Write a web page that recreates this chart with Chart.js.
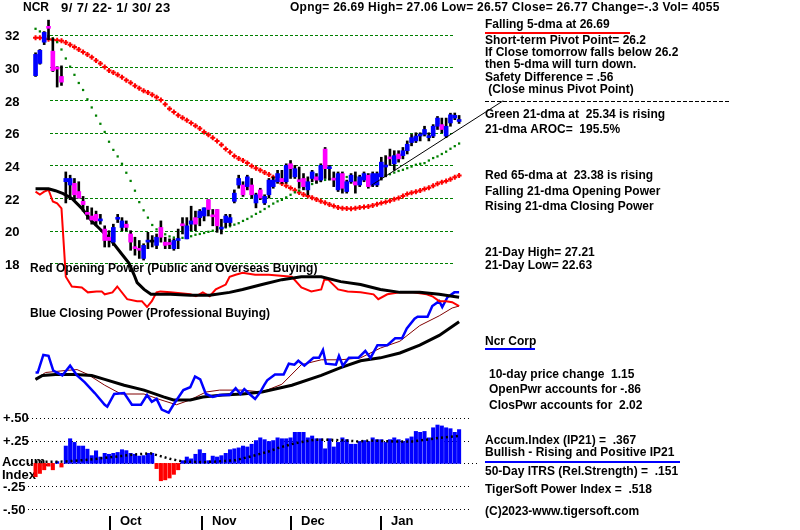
<!DOCTYPE html>
<html>
<head>
<meta charset="utf-8">
<script src="https://cdn.jsdelivr.net/npm/chart.js@4.4.0/dist/chart.umd.min.js"></script>
<style>
  html, body { margin: 0; padding: 0; background: #fff; }
  #wrap { width: 800px; height: 530px; }
</style>
</head>
<body>
<div id="wrap"><canvas id="chart" width="800" height="530"></canvas></div>
<script>
// Velas diarias NCR 9/7/22 - 1/30/23 (indice de dia 0..98)
const opens  = [29.5,30.25,31.55,32.5,31.0,29.95,29.45,23.0,22.8,22.9,22.4,21.8,21.1,20.9,21.0,20.6,20.1,19.6,19.3,20.7,
                20.2,20.4,19.8,18.95,18.9,18.3,19.3,19.3,19.1,20.2,19.3,19.2,18.9,19.4,20.4,19.5,20.4,20.8,20.8,20.9,
                21.9,20.9,21.3,20.1,20.5,20.5,21.8,22.8,22.8,22.7,22.8,21.7,22.5,21.7,22.2,22.7,23.0,23.2,23.0,24.1,
                23.3,23.1,23.2,22.5,23.2,23.3,23.1,25.0,23.8,23.2,22.5,23.5,22.4,23.0,23.0,22.8,23.1,23.4,22.8,22.8,
                23.3,23.9,24.5,24.1,24.7,24.6,24.9,25.4,25.5,25.8,25.9,25.7,25.8,26.4,26.5,25.8,26.6,26.9,26.69];
const highs  = [30.9,31.1,32.2,32.9,31.8,30.05,30.1,23.6,23.4,23.2,23.0,22.1,21.5,21.4,21.2,21.0,20.3,20.0,20.4,21.0,
                20.8,20.6,20.0,19.6,19.4,19.2,19.9,19.7,19.8,20.6,19.6,19.5,19.5,20.1,20.8,20.8,21.5,21.2,21.3,21.4,
                21.9,21.3,21.3,20.7,21.0,21.0,22.5,23.4,23.0,23.4,23.2,22.3,22.6,22.2,23.2,23.3,23.7,23.7,24.1,24.3,
                24.0,23.9,23.5,23.3,23.7,23.5,24.1,25.1,24.0,23.6,23.6,23.6,23.1,23.5,23.6,23.4,23.6,23.5,23.6,23.6,
                24.5,24.6,25.0,24.9,24.9,25.1,25.5,25.9,26.0,26.0,26.4,26.0,26.5,27.0,26.9,26.9,27.2,27.21,27.06];
const lows   = [29.45,30.2,31.4,31.7,29.75,28.8,28.9,21.7,21.9,21.9,22.0,21.2,20.7,20.4,20.3,20.4,19.0,19.0,19.1,20.5,
                20.0,20.0,18.8,18.5,18.3,18.2,18.9,19.0,18.9,19.3,18.9,18.9,18.8,18.9,19.8,19.5,20.0,20.0,20.3,20.6,
                20.9,20.3,19.9,19.8,20.2,20.3,21.7,22.6,22.1,22.5,22.0,21.4,21.9,21.6,22.0,22.6,22.9,22.9,22.9,23.2,
                23.2,22.6,22.5,22.2,23.0,22.9,23.0,23.2,23.1,22.7,22.4,22.3,22.3,22.9,22.3,22.7,23.0,22.6,22.7,22.7,
                23.1,23.3,24.0,23.7,24.2,24.4,24.7,25.2,25.4,25.5,25.8,25.5,25.7,26.2,26.0,25.7,26.4,26.8,26.57];
const closes = [30.8,31.05,32.15,32.4,29.8,29.9,29.1,23.2,23.2,22.2,22.0,21.6,21.0,20.65,20.6,20.65,19.4,19.4,20.2,20.8,
                20.6,20.2,19.3,18.9,18.8,19.1,19.35,19.3,19.6,19.6,19.1,19.15,19.4,19.5,20.3,20.3,20.6,20.4,21.2,21.4,
                21.3,20.85,20.3,20.15,20.9,20.8,22.3,23.2,22.2,23.3,22.2,22.2,22.0,22.1,23.1,23.1,23.5,23.0,24.0,23.8,
                23.8,23.0,22.7,23.0,23.6,23.1,24.0,23.8,23.9,23.1,23.5,22.6,23.0,23.4,22.8,23.3,23.5,22.7,23.5,23.5,
                24.2,24.0,24.4,24.6,24.4,24.9,25.3,25.7,25.8,25.85,26.2,25.75,26.4,26.9,26.2,26.4,27.1,27.07,26.77];

// Medias moviles (65 y 21 dias) por dia
const ma65 = [31.82,31.82,31.78,31.73,31.70,31.67,31.63,31.53,31.40,31.25,31.10,30.95,30.80,30.63,30.43,30.25,30.03,29.82,29.69,29.55,
              29.40,29.22,29.07,28.88,28.72,28.58,28.46,28.33,28.17,28.00,27.75,27.47,27.27,27.08,26.92,26.76,26.60,26.43,26.26,26.05,
              25.88,25.70,25.50,25.27,25.00,24.80,24.58,24.42,24.30,24.14,23.97,23.83,23.70,23.57,23.45,23.28,23.08,22.89,22.75,22.62,
              22.48,22.34,22.22,22.13,22.02,21.91,21.80,21.71,21.60,21.52,21.42,21.38,21.36,21.35,21.38,21.42,21.45,21.48,21.55,21.62,
              21.70,21.76,21.83,21.93,22.01,22.13,22.25,22.33,22.39,22.46,22.55,22.63,22.75,22.87,22.97,23.05,23.15,23.27,23.38];
const ma21 = [32.37,32.21,32.08,31.93,31.78,31.55,31.10,30.55,30.05,29.55,29.05,28.62,28.05,27.55,27.05,26.55,26.05,25.45,24.95,24.55,
              24.10,23.55,23.05,22.45,21.75,21.25,20.80,20.35,20.08,19.95,19.78,19.65,19.58,19.56,19.56,19.58,19.66,19.75,19.80,19.86,
              19.93,20.00,20.08,20.14,20.20,20.27,20.37,20.46,20.60,20.72,20.87,21.03,21.16,21.33,21.49,21.66,21.80,21.89,22.04,22.20,
              22.35,22.46,22.60,22.72,22.86,22.97,23.04,23.11,23.16,23.19,23.22,23.25,23.29,23.32,23.31,23.28,23.24,23.25,23.28,23.31,
              23.34,23.38,23.46,23.56,23.66,23.73,23.83,23.93,24.04,24.10,24.14,24.30,24.45,24.55,24.70,24.84,25.02,25.18,25.34];

// Linea de tendencia
const trendDays = [77.7, 108.2];
const trendVals = [22.78, 27.96];

// Poder de apertura (rojo) y su media (negro)
const opDays = [0,1,2,3,4,5,6,7,8.4,10.7,12.1,14.1,15.3,16,17.8,18.9,21.2,23.5,24.6,25.8,26.9,28,28.9,31.2,
                35.8,37.1,38.7,40.3,41.7,44,44.9,46.3,47.9,50.8,54,59.3,61.5,63.8,66.1,66.8,67.7,70,72.2,75.2,
                78.2,79.3,81.4,84.3,87.3,90.5,91.8,93.4,95,96.4,98];
const opVals = [1.10,1.07,1.10,1.12,1.00,0.98,0.93,0.23,0.13,0.12,0.07,0.08,0.08,0.05,0.07,0.13,0.00,-0.02,-0.02,-0.08,-0.02,0.07,0.08,0.07,
                0.05,0.03,0.07,0.03,0.10,0.15,0.23,0.25,0.27,0.25,0.25,0.23,0.12,0.08,0.10,0.20,0.20,0.10,0.08,0.07,
                0.05,0.00,0.05,0.07,0.07,0.05,0.03,-0.02,-0.02,-0.03,-0.07];
const opMaDays = [0,3,4.6,6.4,8.4,10.7,13,15.3,17.5,19.8,21.6,22.8,23.5,25.1,26.7,31.2,
                  35.8,40.3,44.9,47.9,52.4,57,61.5,66.1,70.6,75.2,79.8,84.3,88.9,93.4,96.4,98];
const opMaVals = [1.13,1.13,1.11,1.08,1.03,0.93,0.80,0.70,0.60,0.47,0.37,0.25,0.17,0.10,0.05,0.05,
                  0.04,0.04,0.07,0.10,0.15,0.20,0.23,0.23,0.18,0.15,0.10,0.07,0.07,0.05,0.03,0.02];

// Poder de cierre (azul) y sus medias (negro, marron)
const cpDays = [0,0.5,1.8,3,4.1,6.2,8,9.6,11.4,13.7,16,16.6,18.2,20.5,22.3,24.4,25.8,26.9,28,29.2,30.8,31.9,34.2,35.8,
                36.9,38.1,39.4,41,42.6,44.9,46.3,47.4,48.3,49.5,50.8,52,52.9,53.6,55.4,57.4,58.6,59.9,60.8,62.2,64.3,65.6,
                66.5,67.2,69.5,70.2,71.1,72.5,74.7,76.3,77.5,79.1,81.4,83.2,84.8,85.9,87.7,88.4,90.7,91.8,93.4,94.1,95.3,96.9,98];
const cpVals = [0.35,0.35,0.53,0.52,0.37,0.32,0.42,0.32,0.25,0.14,0.02,0.00,0.13,0.14,0.02,0.02,0.12,0.05,0.08,-0.03,-0.06,0.02,0.17,0.20,
                0.31,0.28,0.13,0.10,0.12,0.12,0.19,0.13,0.18,0.13,0.08,0.15,0.22,0.27,0.33,0.33,0.44,0.43,0.47,0.42,0.50,0.50,
                0.58,0.44,0.43,0.52,0.42,0.50,0.50,0.57,0.50,0.63,0.63,0.70,0.70,0.80,0.90,0.92,0.92,1.03,1.08,1.02,1.12,1.17,1.17];
const cpMaDays = [0,1.6,4.6,9.1,13,16,20.5,25.1,29.6,31.9,35.8,38.7,43.3,47.9,52.4,59.3,66.1,70.6,75.2,79.8,84.3,88.9,93.4,98];
const cpMaVals = [0.28,0.32,0.33,0.33,0.32,0.28,0.22,0.17,0.10,0.07,0.07,0.10,0.12,0.13,0.15,0.22,0.32,0.40,0.47,0.50,0.55,0.63,0.73,0.87];
const cpMa2Days = [0,2.3,6.8,9.6,12.1,16,19.8,25.1,29,32.6,35.8,39.4,42.6,47.9,52.4,57,61.5,66.1,70.6,75.2,79.8,84.3,88.9,93.4,96.4,98];
const cpMa2Vals = [0.28,0.35,0.37,0.38,0.33,0.22,0.13,0.13,0.07,0.02,0.07,0.15,0.17,0.17,0.15,0.23,0.43,0.48,0.48,0.50,0.60,0.67,0.83,0.93,1.01,1.03];

// Indice de acumulacion IP21 y su media
const accum = [-0.146,-0.11,-0.07,-0.03,-0.07,0.02,-0.04,
               0.19,0.27,0.23,0.19,0.19,0.156,0.085,0.138,0.07,0.11,0.10,0.11,0.12,0.15,0.14,0.11,0.10,0.08,0.085,0.11,0.11,
               -0.057,-0.19,-0.18,-0.16,-0.12,-0.07,
               0.03,0.07,0.05,0.10,0.15,0.11,0.03,0.08,0.07,0.085,0.11,0.15,0.16,0.17,0.19,0.18,0.21,0.25,0.28,
               0.26,0.24,0.25,0.28,0.27,0.27,0.28,0.34,0.34,0.34,0.28,0.30,0.27,0.27,0.16,0.27,0.18,0.23,0.28,0.26,
               0.21,0.21,0.24,0.25,0.24,0.28,0.26,0.26,0.23,0.26,0.28,0.26,0.24,0.27,0.29,0.35,0.34,0.35,0.28,0.39,
               0.42,0.41,0.39,0.38,0.34,0.37];
const accMaDays = [0,6.5,12.1,15.9,19.7,23.5,26.6,28.9,31.1,34.2,38.7,41.8,46.3,50.9,53.9,56.2,60,64.6,67.6,72.2,74.5,77.5,82.9,87.4,90.4,93.5,98];
const accMaVals = [0.015,0.02,0.04,0.06,0.08,0.10,0.11,0.08,0.05,0.02,0.015,0.02,0.035,0.09,0.13,0.17,0.22,0.26,0.26,0.25,0.24,0.25,0.24,0.24,0.26,0.28,0.30];

// Etiquetas de ejes
const priceTicks = [32, 30, 28, 26, 24, 22, 20, 18];
const accumTicks = [0.5, 0.25, 0, -0.25, -0.5];
const accumTickLabels = ['+.50', '+.25', '', '-.25', '-.50'];
const months = ['Oct', 'Nov', 'Dec', 'Jan'];
const monthDays = [17.3, 38.5, 59.1, 79.9];

// ---- disposicion ----
const W = 800, H = 530;
const X_FIRST = 30, X_LAST = 460;
const pxDay = (X_LAST - X_FIRST) / (opens.length - 1);
function rango(valRef, pxRef, pxUnidad) {
  return { min: valRef - (H - pxRef) / pxUnidad, max: valRef + pxRef / pxUnidad };
}
const rP = rango(32, 29.5, 16.7);   // precio
const rO = rango(0, 300, 100);      // poder de apertura
const rC = rango(0, 410, 100);      // poder de cierre
const rA = rango(0, 468, 93.5);     // acumulacion

const pares = (xs, ys) => xs.map((d, i) => ({ x: d, y: ys[i] }));
const dias = opens.map((_, i) => i);

const wicks = dias.map(i => ({ x: i, y: [lows[i], highs[i]] }));
const bodies = dias.map(i => ({ x: i, y: [opens[i], closes[i]] }));
const bodyColors = dias.map(i => closes[i] > opens[i] + 0.02 ? '#0000FF' : (closes[i] < opens[i] - 0.02 ? '#FF00FF' : '#000000'));
const accBars = dias.map(i => ({ x: i, y: accum[i] }));
const accColors = accum.map(v => v >= 0 ? '#0000FF' : '#FF0000');

const F = 'bold 12px "Liberation Sans", Arial, sans-serif';
const F13 = 'bold 13px "Liberation Sans", Arial, sans-serif';

function linea(ctx, x1, y1, x2, y2) {
  ctx.beginPath(); ctx.moveTo(x1, y1); ctx.lineTo(x2, y2); ctx.stroke();
}

const dibujo = {
  id: 'dibujo',
  beforeDatasetsDraw(chart) {
    const ctx = chart.ctx, yP = chart.scales.yP, yA = chart.scales.yA;
    ctx.save();
    // rejilla verde del precio
    ctx.strokeStyle = '#008000'; ctx.lineWidth = 1; ctx.setLineDash([3, 2]);
    priceTicks.forEach(p => {
      const y = Math.round(yP.getPixelForValue(p)) + 0.5;
      linea(ctx, 50, y, 453, y);
    });
    // lineas punteadas del indice de acumulacion
    ctx.strokeStyle = '#000'; ctx.setLineDash([1, 3]);
    accumTicks.forEach(v => {
      const y = Math.round(yA.getPixelForValue(v)) + 0.5;
      linea(ctx, 28, y, v === 0 ? 480 : 472, y);
    });
    // rotulo del panel (queda debajo de las barras)
    ctx.fillStyle = '#000';
    ctx.textBaseline = 'middle';
    ctx.font = F13;
    ctx.fillText('Accum.', 2, 462);
    ctx.fillText('Index', 2, 475);
    ctx.restore();
  },
  afterDatasetsDraw(chart) {
    const ctx = chart.ctx, yP = chart.scales.yP, yA = chart.scales.yA, x = chart.scales.x;
    ctx.save();
    ctx.fillStyle = '#000';
    ctx.textBaseline = 'middle';
    ctx.font = F13;
    priceTicks.forEach(p => ctx.fillText(String(p), 5, yP.getPixelForValue(p) + 2));
    accumTicks.forEach((v, k) => {
      if (accumTickLabels[k]) ctx.fillText(accumTickLabels[k], 3, yA.getPixelForValue(v) + 1);
    });

    // meses
    ctx.strokeStyle = '#000'; ctx.lineWidth = 2;
    months.forEach((m, k) => {
      const px = Math.round(x.getPixelForValue(monthDays[k]));
      linea(ctx, px, 516, px, 530);
      ctx.fillText(m, px + 10, 521);
    });

    // titulos
    ctx.font = F;
    ctx.fillText('NCR', 23, 8);
    ctx.font = F13;
    ctx.letterSpacing = '0.4px';
    ctx.fillText('9/ 7/ 22- 1/ 30/ 23', 61, 8);
    ctx.font = F;
    ctx.letterSpacing = '0.25px';
    ctx.fillText('Opng= 26.69 High= 27.06 Low= 26.57 Close= 26.77 Change=-.3 Vol= 4055', 290, 8);
    ctx.letterSpacing = '0px';
    ctx.fillText('Red Opening Power (Public and Overseas Buying)', 30, 269);
    ctx.fillText('Blue Closing Power (Professional Buying)', 30, 314);

    // panel derecho
    const textos = [
      ['Falling 5-dma at 26.69', 485, 25],
      ['Short-term Pivot Point= 26.2', 485, 41],
      ['If Close tomorrow falls below 26.2', 485, 53],
      ['then 5-dma will turn down.', 485, 65],
      ['Safety Difference = .56', 485, 78],
      [' (Close minus Pivot Point)', 485, 90],
      ['Green 21-dma at  25.34 is rising', 485, 115],
      ['21-dma AROC=  195.5%', 485, 130],
      ['Red 65-dma at  23.38 is rising', 485, 176],
      ['Falling 21-dma Opening Power', 485, 192],
      ['Rising 21-dma Closing Power', 485, 207],
      ['21-Day High= 27.21', 485, 253],
      ['21-Day Low= 22.63', 485, 266],
      ['Ncr Corp', 485, 342],
      ['10-day price change  1.15', 489, 375],
      ['OpenPwr accounts for -.86', 489, 390],
      ['ClosPwr accounts for  2.02', 489, 406],
      ['Accum.Index (IP21) =  .367', 485, 441],
      ['Bullish - Rising and Positive IP21', 485, 453],
      ['50-Day ITRS (Rel.Strength) =  .151', 485, 472],
      ['TigerSoft Power Index =  .518', 485, 490],
      ['(C)2023-www.tigersoft.com', 485, 512]
    ];
    textos.forEach(t => ctx.fillText(t[0], t[1], t[2]));

    ctx.lineWidth = 2;
    ctx.strokeStyle = '#FF0000'; linea(ctx, 485, 33, 630, 33);
    ctx.strokeStyle = '#0000FF'; linea(ctx, 485, 349, 535, 349);
    linea(ctx, 485, 462, 680, 462);
    ctx.strokeStyle = '#000'; ctx.lineWidth = 1; ctx.setLineDash([4, 2]);
    linea(ctx, 485, 101.5, 730, 101.5);
    ctx.restore();
  }
};

const lineaBase = { type: 'line', pointRadius: 0, tension: 0, fill: false };

new Chart(document.getElementById('chart'), {
  type: 'bar',
  data: {
    datasets: [
      Object.assign({}, lineaBase, { label: 'tendencia', data: pares(trendDays, trendVals), yAxisID: 'yP',
        borderColor: '#000', borderWidth: 1, order: 0 }),
      { label: 'cuerpos', data: bodies, yAxisID: 'yP', backgroundColor: bodyColors,
        barThickness: 4, minBarLength: 2, grouped: false, order: 1 },
      { label: 'mechas', data: wicks, yAxisID: 'yP', backgroundColor: '#000',
        barThickness: 2, grouped: false, order: 2 },
      Object.assign({}, lineaBase, { label: '21-dma', data: pares(dias, ma21), yAxisID: 'yP', showLine: false,
        pointStyle: 'rect', pointRadius: 1.6, pointBackgroundColor: '#008000', pointBorderWidth: 0,
        borderColor: '#008000', order: 3 }),
      Object.assign({}, lineaBase, { label: '65-dma', data: pares(dias, ma65), yAxisID: 'yP', showLine: false,
        pointStyle: 'cross', pointRadius: 2.5, pointBorderWidth: 2, pointBorderColor: '#FF0000',
        borderColor: '#FF0000', order: 4 }),
      Object.assign({}, lineaBase, { label: 'op', data: pares(opDays, opVals), yAxisID: 'yO',
        borderColor: '#FF0000', borderWidth: 2, order: 6 }),
      Object.assign({}, lineaBase, { label: 'opMa', data: pares(opMaDays, opMaVals), yAxisID: 'yO',
        borderColor: '#000', borderWidth: 3, order: 5 }),
      Object.assign({}, lineaBase, { label: 'cp', data: pares(cpDays, cpVals), yAxisID: 'yC',
        borderColor: '#0000FF', borderWidth: 2.5, order: 7 }),
      Object.assign({}, lineaBase, { label: 'cpMa', data: pares(cpMaDays, cpMaVals), yAxisID: 'yC',
        borderColor: '#000', borderWidth: 3, order: 8 }),
      Object.assign({}, lineaBase, { label: 'cpMa2', data: pares(cpMa2Days, cpMa2Vals), yAxisID: 'yC',
        borderColor: '#800000', borderWidth: 1, order: 9 }),
      Object.assign({}, lineaBase, { label: 'accMa', data: pares(accMaDays, accMaVals), yAxisID: 'yA',
        borderColor: '#000', borderWidth: 2.5, borderDash: [2, 3], order: 10 }),
      { label: 'IP21', data: accBars, yAxisID: 'yA', backgroundColor: accColors,
        barThickness: 3.4, grouped: false, order: 11 }
    ]
  },
  options: {
    responsive: false,
    animation: false,
    events: [],
    layout: { padding: 0 },
    plugins: { legend: { display: false }, tooltip: { enabled: false } },
    scales: {
      x: { type: 'linear', display: false, offset: false, min: -X_FIRST / pxDay, max: (W - X_FIRST) / pxDay },
      yP: { type: 'linear', display: false, min: rP.min, max: rP.max },
      yO: { type: 'linear', display: false, min: rO.min, max: rO.max },
      yC: { type: 'linear', display: false, min: rC.min, max: rC.max },
      yA: { type: 'linear', display: false, min: rA.min, max: rA.max }
    }
  },
  plugins: [dibujo]
});
</script>
</body>
</html>
